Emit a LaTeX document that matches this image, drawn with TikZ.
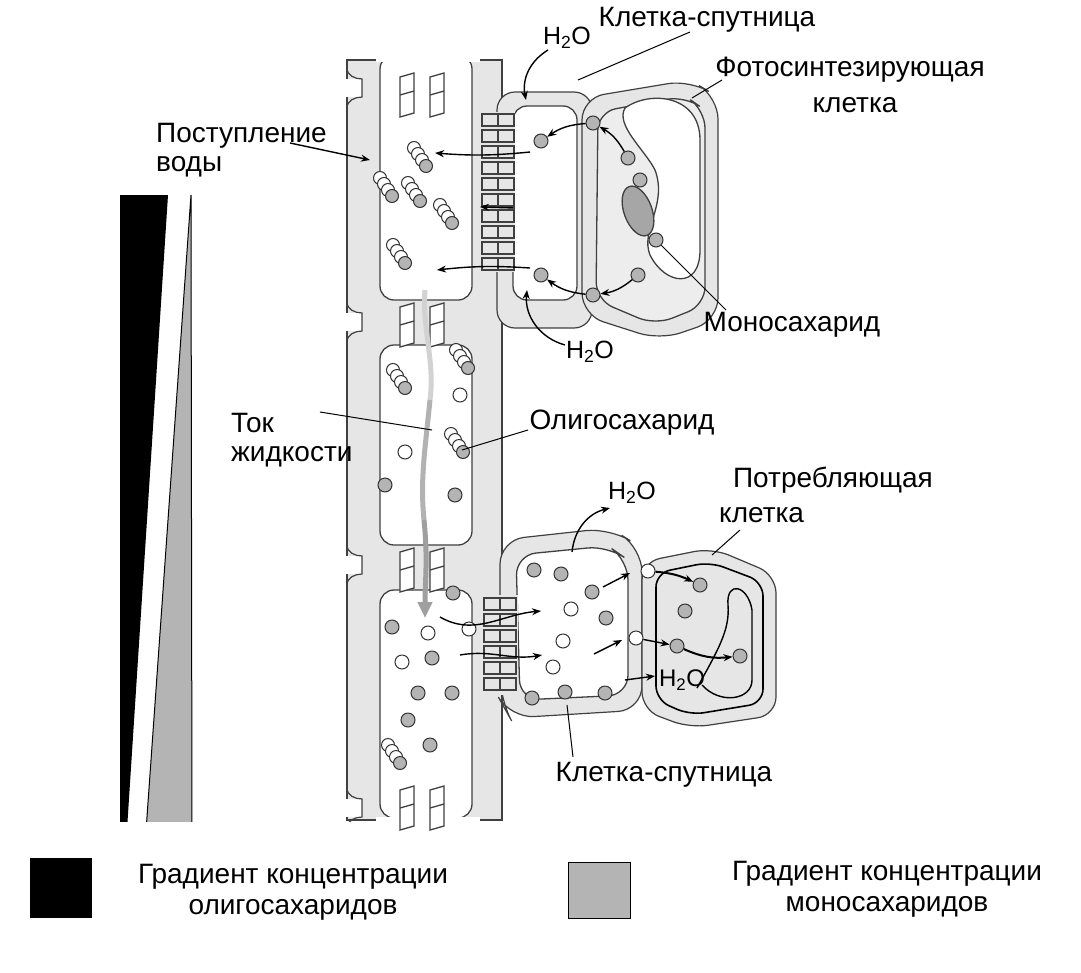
\documentclass[tikz,border=0pt]{standalone}
\usepackage{fontspec}
\setmainfont{Liberation Sans}
\usetikzlibrary{arrows.meta}
\definecolor{wall}{HTML}{E6E6E6}
\definecolor{sug}{HTML}{B4B4B4}
\begin{document}
\begin{tikzpicture}[x=1pt,y=-1pt,
  lab/.style={font=\fontsize{28}{33}\selectfont, inner sep=1pt},
  ol/.style={draw=black!75, line width=1.3pt},
  mono/.style={circle, draw=black!80, fill=sug, line width=1pt, minimum size=14pt, inner sep=0pt},
  suc/.style={circle, draw=black!80, fill=white, line width=1pt, minimum size=14pt, inner sep=0pt},
  ar/.style={-{Stealth[length=9pt,width=7pt]}, line width=1.4pt},
  pl/.style={draw=black!75, line width=1.2pt, fill=wall},
  olig/.pic={
    \draw[fill=white, draw=black!80, line width=1pt] (0,0) circle (6.5);
    \draw[fill=white, draw=black!80, line width=1pt] (4,6) circle (6.5);
    \draw[fill=white, draw=black!80, line width=1pt] (8,12) circle (6.5);
    \draw[fill=sug, draw=black!80, line width=1pt] (12,18) circle (6.5);}
]
\useasboundingbox (0,0) rectangle (1081,972);
% ---- gradient triangles
\fill[black] (120,195) -- (168,195) -- (126,845) -- (120,845) -- cycle;
\draw[line width=1pt, fill=sug] (191,195) -- (192,845) -- (145,845) -- cycle;
\draw[line width=0.8pt] (120,195) -- (120,845);
% ---- sieve tube column
\path[pl] (347,60) -- (502,60) -- (502,820) -- (347,820) -- cycle;
\foreach \y in {88,322,565,808}{
  \fill[white] (340,\y-9) rectangle (362,\y+9);
  \draw[black!75,line width=1.2pt] (347,\y-20) to[out=-90,in=180] (362,\y-9) -- (362,\y+9) to[out=180,in=90] (347,\y+20);
}
\fill[white] (0,0) rectangle (1081,58);
\fill[white] (0,822) rectangle (1081,972);
% cell interiors
\foreach \a/\b in {55/300, 345/545, 590/818}{
  \draw[ol, fill=white, rounded corners=14pt] (380,\a) rectangle (472,\b);
}
\fill[white] (376,50) rectangle (480,62);
\fill[white] (376,817) rectangle (480,830);
% sieve plates
\foreach \y in {95,325,570,808}{
  \foreach \x in {400,430}{
    \draw[ol, fill=white] (\x,\y-18) -- (\x+14,\y-22) -- (\x+14,\y+18) -- (\x,\y+22) -- cycle;
    \draw[ol] (\x,\y) -- (\x+14,\y-4);
  }
}
% ---- top companion cell
\path[pl, rounded corners=18pt] (497,92) rectangle (592,328);
\draw[ol, fill=white, rounded corners=14pt] (513,106) rectangle (577,300);
% plasmodesmata top
\fill[wall] (476,112) rectangle (515,272);
\foreach \y in {120,136,152,168,184,200,216,232,248,264}{
  \draw[ol, fill=wall] (482,\y-6) rectangle (498,\y+6);
  \draw[ol, fill=wall] (498,\y-6) rectangle (514,\y+6);
}
% ---- photosynthetic cell
\path[pl, rounded corners=22pt] (582,98) -- (690,80) -- (718,97) -- (718,320) -- (660,340) -- (582,315) -- cycle;
\draw[ol, fill=wall!70, rounded corners=18pt] (598,112) -- (685,96) -- (705,110) -- (705,305) -- (655,325) -- (596,300) -- cycle;
\draw[ol, fill=white] (625,108) .. controls (650,90) and (700,95) .. (700,140)
  -- (700,250) .. controls (700,290) and (665,285) .. (650,255)
  .. controls (640,230) and (668,205) .. (655,170) .. controls (645,150) and (615,125) .. (625,108);
\draw[ol, fill=black!35] (638,211) ellipse [x radius=14, y radius=26, rotate=20];
% ---- bottom companion cell
\path[pl, rounded corners=24pt] (500,540) -- (610,528) -- (642,548) -- (642,710) -- (510,718) -- (500,700) -- cycle;
\draw[ol, fill=white, rounded corners=20pt] (516,555) -- (608,546) -- (628,560) -- (628,695) -- (520,700) -- cycle;
\fill[wall] (480,595) rectangle (518,695);
\foreach \y in {604,620,636,652,668,684}{
  \draw[ol, fill=wall] (484,\y-6) rectangle (500,\y+6);
  \draw[ol, fill=wall] (500,\y-6) rectangle (516,\y+6);
}
% ---- consumer cell
\path[pl, rounded corners=18pt] (642,562) -- (712,548) -- (776,575) -- (776,715) -- (690,728) -- (642,710) -- cycle;
\draw[line width=1.6pt, rounded corners=14pt] (656,573) -- (710,562) -- (763,582) -- (763,703) -- (690,715) -- (656,700) -- cycle;
\draw[line width=1.4pt] (697,688) .. controls (718,650) and (730,630) .. (728,605)
  .. controls (726,580) and (748,585) .. (752,610) -- (752,680) .. controls (752,700) and (720,705) .. (702,685);
% ---- flow arrow
\draw[line width=5pt, gray!35] (425,290) .. controls (422,330) and (435,360) .. (430,400);
\draw[line width=5pt, gray!60] (430,400) .. controls (425,450) and (420,480) .. (424,520);
\draw[line width=5pt, gray!75, -{Triangle[length=16pt,width=14pt]}] (424,520) .. controls (428,560) and (425,580) .. (425,618);
% ---- oligosaccharide chains
\foreach \x/\y in {414/148, 380/178, 408/183, 440/205, 393/245, 456/350, 393/370, 451/434, 388/745}{
  \pic at (\x,\y) {olig};
}
% ---- molecules
\foreach \n/\x/\y in {m1/541/141, m2/541/275, m3/593/123, m4/593/295, m5/628/158, m6/640/180, m7/656/240, m8/638/275,
  m9/385/485, m10/455/495,
  m11/453/593, m12/392/627, m13/432/658, m14/418/693, m15/452/693, m16/408/720, m17/430/745,
  m18/534/570, m19/561/574, m20/592/592, m21/606/618, m22/532/698, m23/565/692, m24/605/693,
  m25/700/585, m26/685/611, m27/677/646, m28/740/656}{
  \node[mono] (\n) at (\x,\y) {};
}
\foreach \n/\x/\y in {s1/460/395, s2/405/452, s3/428/633, s4/402/662, s5/469/629, s6/571/609, s7/563/641, s8/553/667, s9/648/571, s10/636/638}{
  \node[suc] (\n) at (\x,\y) {};
}
% ---- arrows
\draw[ar] (m3) to[bend right=15] (m1);
\draw[ar] (m5) to[bend right=15] (m3);
\draw[ar] (530,152) to[bend left=5] (435,153);
\draw[ar] (515,208) -- (480,207);
\draw[ar] (530,268) to[bend right=5] (437,270);
\draw[ar] (m8) to[bend left=15] (m4);
\draw[ar] (m4) to[bend left=15] (m2);
\draw[ar] (440,617) to[out=-30,in=185] (541,611);
\draw[ar] (460,655) to[out=10,in=190] (542,655);
\draw[ar] (603,587) -- (630,573);
\draw[ar] (594,654) -- (622,640);
\draw[ar] (625,680) -- (655,676);
\draw[ar, line width=2pt] (s9) to[bend left=10] (m25);
\draw[ar] (s10) -- (m27);
\draw[ar, line width=2pt] (m27) to[bend right=15] (m28);
% ---- labels
\node[lab, font=\fontsize{25}{30}\selectfont] (h1) at (567,38) {H\textsubscript{2}O};
\draw[ar] (548,50) to[bend right=35] (526,100);
\node[lab] (kt) at (707,20) {Клетка-спутница};
\draw[line width=1pt] (690,32) -- (578,80);
\node[lab] (fs) at (850,70) {Фотосинтезирующая};
\node[lab] (fs2) at (855,105) {клетка};
\draw[line width=1pt] (722,80) -- (692,98);
\node[lab, align=left, anchor=west] (pv) at (155,150) {Поступление\\[-4pt]воды};
\draw[ar] (290,143) -- (370,160);
\node[lab] (ms) at (792,325) {Моносахарид};
\draw[line width=1pt] (m7) -- (726,310);
\node[lab, font=\fontsize{25}{30}\selectfont] (h2) at (590,352) {H\textsubscript{2}O};
\draw[ar] (565,345) to[bend left=40] (527,290);
\node[lab, align=left, anchor=west] (tok) at (230,440) {Ток\\[-4pt]жидкости};
\draw[line width=1pt] (320,412) -- (432,430);
\node[lab] (olg) at (622,423) {Олигосахарид};
\draw[line width=1pt] (528,430) -- (462,450);
\node[lab, font=\fontsize{25}{30}\selectfont] (h3) at (632,493) {H\textsubscript{2}O};
\draw[ar] (572,552) to[bend left=35] (610,508);
\node[lab] (pt) at (833,480) {Потребляющая};
\node[lab, anchor=west] (pt2) at (718,515) {клетка};
\draw[line width=1pt] (740,530) -- (712,555);
\node[lab, font=\fontsize{24}{28}\selectfont] (h4) at (682,680) {H\textsubscript{2}O};
\node[lab] (kb) at (664,775) {Клетка-спутница};
\draw[line width=1pt] (567,705) -- (573,757);
% ---- legend
\fill[black] (30,858) rectangle (92,918);
\draw[line width=1pt, fill=sug] (568,862) rectangle (630,918);
\node[lab, align=center] (lg1) at (293,892) {Градиент концентрации\\[-2pt]олигосахаридов};
\node[lab, align=center] (lg2) at (887,889) {Градиент концентрации\\[-2pt]моносахаридов};
\end{tikzpicture}
\end{document}
